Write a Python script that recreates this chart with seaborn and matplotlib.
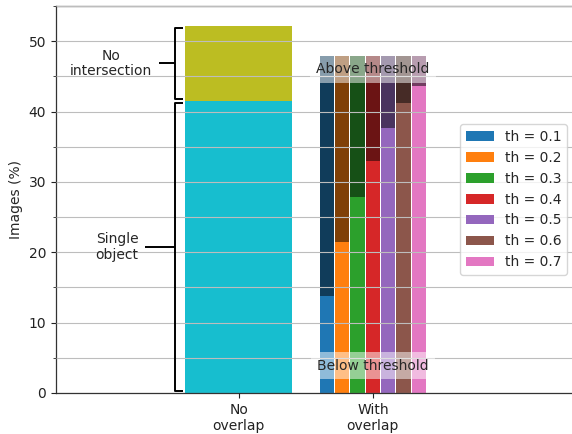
import numpy as np
import pandas as pd
import matplotlib
matplotlib.use("Agg")
import matplotlib.pyplot as plt
import matplotlib.colors as mcolors
from matplotlib.patches import Patch
from matplotlib.ticker import MultipleLocator
import seaborn as sns

# ---- data -------------------------------------------------------------
categories = ["No\noverlap", "With\noverlap"]

# images without overlapping objects (stacked: single object + no intersection)
no_overlap_single = 41.5
no_overlap_total = 52.2

# images with overlapping objects, split by IoU threshold
thresholds = ["0.1", "0.2", "0.3", "0.4", "0.5", "0.6", "0.7"]
below_threshold = [13.8, 21.5, 27.8, 33.0, 37.6, 41.2, 43.6]
with_overlap_total = [47.9, 47.9, 47.9, 47.9, 47.9, 47.9, 47.9]

# ---- styling ----------------------------------------------------------
sns.set_theme(style="ticks", context="notebook")
plt.rcParams["font.family"] = ["DejaVu Sans"]
plt.rcParams["font.size"] = 10
plt.rcParams["axes.labelsize"] = 10
plt.rcParams["xtick.labelsize"] = 10
plt.rcParams["ytick.labelsize"] = 10
plt.rcParams["legend.fontsize"] = 10

bright = sns.color_palette("tab10", 7)
dark = [tuple(np.array(mcolors.to_rgb(c)) * 0.5) for c in bright]
olive = mcolors.to_rgb("tab:olive")
cyan = mcolors.to_rgb("tab:cyan")

fig = plt.figure(figsize=(5.72, 4.34), dpi=100)
ax = fig.add_axes([56 / 572, 41 / 434, (574 - 56) / 572, (393 - 6) / 434])

# ---- bars: no overlap -------------------------------------------------
df_no = pd.DataFrame({"cat": [categories[0]],
                      "total": [no_overlap_total],
                      "single": [no_overlap_single]})
sns.barplot(data=df_no, x="cat", y="total", order=categories, color=olive,
            saturation=1, width=0.8, errorbar=None, linewidth=0, ax=ax)
sns.barplot(data=df_no, x="cat", y="single", order=categories, color=cyan,
            saturation=1, width=0.8, errorbar=None, linewidth=0, ax=ax)

# ---- bars: with overlap (above threshold stacked on below threshold) ---
labels = [f"th = {t}" for t in thresholds]
df_with = pd.DataFrame({"cat": categories[1], "th": labels,
                        "total": with_overlap_total,
                        "below": below_threshold})
common = dict(data=df_with, x="cat", hue="th", order=categories,
              hue_order=labels, dodge=True, width=0.8, gap=0.07,
              saturation=1, errorbar=None, linewidth=0, legend=False, ax=ax)
sns.barplot(y="total", palette=dark, **common)
sns.barplot(y="below", palette=bright, **common)

# ---- axes -------------------------------------------------------------
ax.set_xlim(-1.363, 2.5)
ax.set_ylim(0, 55)
ax.set_xlabel("")
ax.set_ylabel("Images (%)")
ax.set_xticks([0, 1])
ax.set_xticklabels(categories)
ax.yaxis.set_major_locator(MultipleLocator(10))
ax.yaxis.set_minor_locator(MultipleLocator(5))
ax.tick_params(axis="both", which="major", length=3.5, width=0.8, pad=3.5,
               colors="#222222")
ax.tick_params(axis="y", which="minor", length=2, width=0.6)
ax.grid(True, axis="y", which="both", color="#bdbdbd", linewidth=0.8)
ax.set_axisbelow(False)
for side in ["left", "bottom", "top", "right"]:
    ax.spines[side].set_visible(True)
    ax.spines[side].set_linewidth(0.9)
    ax.spines[side].set_color("#333333")

# ---- threshold captions ----------------------------------------------
box = dict(facecolor="white", alpha=0.5, edgecolor="none",
           boxstyle="square,pad=0.45")
ax.text(1, 46.0, "Above threshold", ha="center", va="center", bbox=box,
        zorder=4)
ax.text(1, 3.9, "Below threshold", ha="center", va="center", bbox=box,
        zorder=4)


# ---- brackets beside the no-overlap bar ------------------------------
def bracket(lo, hi, text, line_left, text_x):
    x_v, x_e = -0.478, -0.418
    inset = 0.3
    lo_b, hi_b = lo + inset, hi - inset
    mid = (lo + hi) / 2
    kw = dict(color="black", linewidth=1.4, solid_capstyle="butt",
              clip_on=False, zorder=5)
    ax.plot([x_e, x_v, x_v, x_e], [hi_b, hi_b, lo_b, lo_b], **kw)
    ax.plot([line_left, x_v], [mid, mid], **kw)
    ax.text(text_x, mid, text, ha="center", va="center",
            linespacing=1.1, zorder=5)


bracket(no_overlap_single, no_overlap_total, "No\nintersection", -0.595, -0.953)
bracket(0, no_overlap_single, "Single\nobject", -0.699, -0.908)

# ---- legend -----------------------------------------------------------
handles = [Patch(facecolor=c, edgecolor="none", label=l)
           for c, l in zip(bright, labels)]
ax.legend(handles=handles, loc="center right", frameon=True,
          framealpha=0.8, edgecolor="0.8", fancybox=True)

fig.savefig("out.png", dpi=100)
